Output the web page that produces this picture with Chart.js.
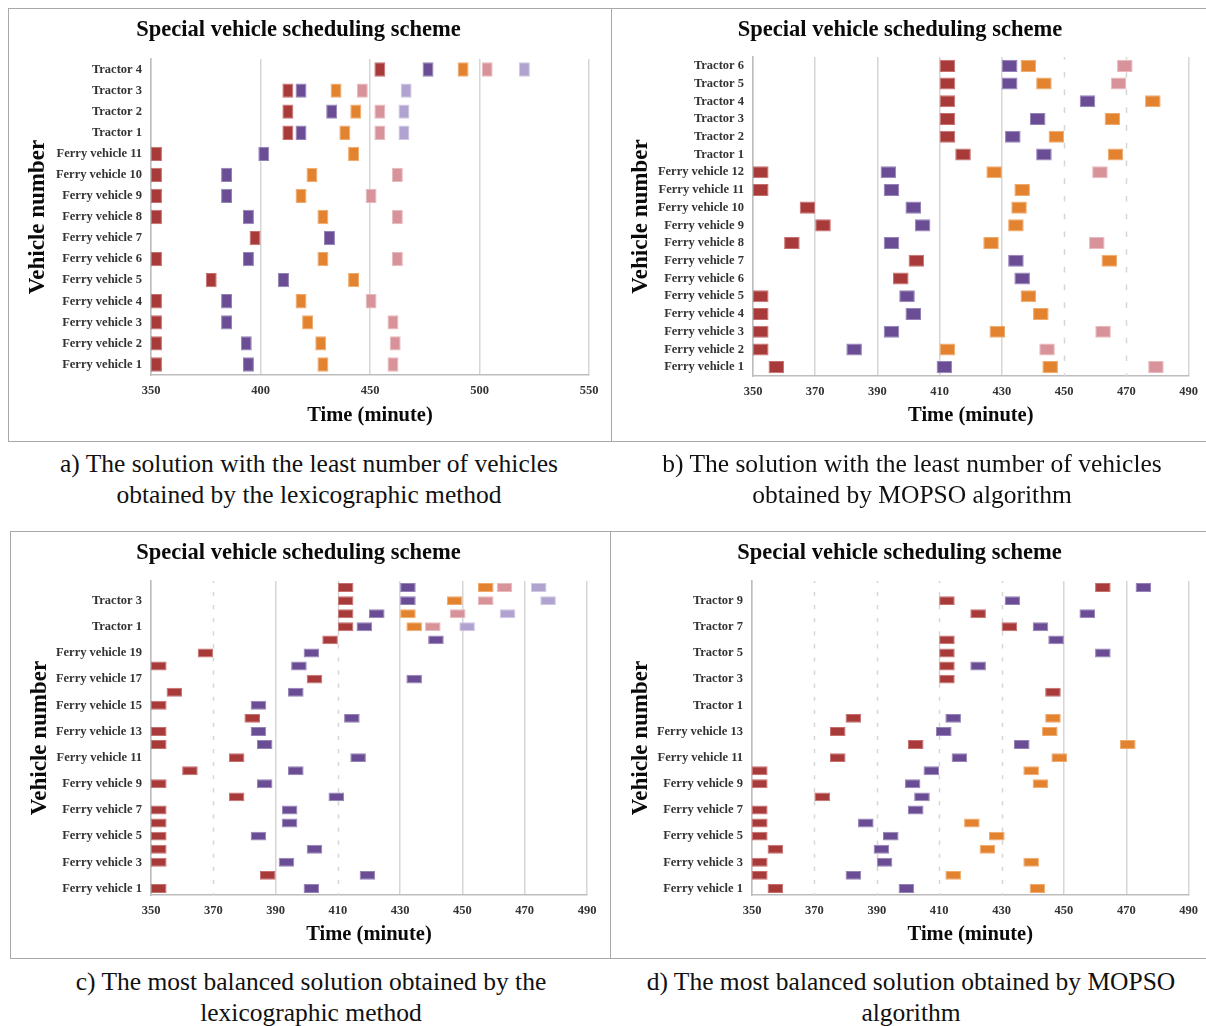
<!DOCTYPE html>
<html><head><meta charset="utf-8">
<script src="https://cdn.jsdelivr.net/npm/chart.js@4.4.1/dist/chart.umd.min.js"></script>
<style>
html,body{margin:0;padding:0;background:#fff;}
body{width:1206px;height:1026px;position:relative;overflow:hidden;font-family:'Liberation Serif','Times New Roman',serif;}
canvas{position:absolute;}
.box{position:absolute;box-sizing:border-box;border:1.5px solid #A8A8A8;pointer-events:none;}
.cap{position:absolute;text-align:center;font-size:25.5px;line-height:31px;color:#111;white-space:nowrap;}
</style></head><body>
<canvas id="ca"></canvas><canvas id="cb"></canvas><canvas id="cc"></canvas><canvas id="cd"></canvas>
<div class="box" style="left:8px;top:8px;width:604px;height:434px"></div>
<div class="box" style="left:611px;top:8px;width:596px;height:434px"></div>
<div class="box" style="left:10px;top:531px;width:601px;height:428px"></div>
<div class="box" style="left:610px;top:531px;width:597px;height:428px"></div>
<div class="cap" style="left:9px;width:600px;top:448px">a) The solution with the least number of vehicles<br>obtained by the lexicographic method</div>
<div class="cap" style="left:612px;width:600px;top:448px">b) The solution with the least number of vehicles<br>obtained by MOPSO algorithm</div>
<div class="cap" style="left:11px;width:600px;top:966px">c) The most balanced solution obtained by the<br>lexicographic method</div>
<div class="cap" style="left:611px;width:600px;top:966px">d) The most balanced solution obtained by MOPSO<br>algorithm</div>
<script>
// ---------- DATA (start time of each task block, minutes) ----------
const BLOCK_MINUTES = 5;
const chartTitle = 'Special vehicle scheduling scheme';
const taskNames = ['Task 1', 'Task 2', 'Task 3', 'Task 4', 'Task 5'];

// a) least vehicles, lexicographic
const labelsA = ['Ferry vehicle 1','Ferry vehicle 2','Ferry vehicle 3','Ferry vehicle 4','Ferry vehicle 5','Ferry vehicle 6','Ferry vehicle 7','Ferry vehicle 8','Ferry vehicle 9','Ferry vehicle 10','Ferry vehicle 11','Tractor 1','Tractor 2','Tractor 3','Tractor 4'];
const a1 = [350,350,350,350,375,350,395,350,350,350,350,410,410,410,452];
const a2 = [392,391,382,382,408,392,429,392,382,382,399,416,430,416,474];
const a3 = [426,425,419,416,440,426,null,426,416,421,440,436,441,432,490];
const a4 = [458,459,458,448,null,460,null,460,448,460,null,452,452,444,501];
const a5 = [null,null,null,null,null,null,null,null,null,null,null,463,463,464,518];
const ticksA = [350,400,450,500,550];

// b) least vehicles, MOPSO
const labelsB = ['Ferry vehicle 1','Ferry vehicle 2','Ferry vehicle 3','Ferry vehicle 4','Ferry vehicle 5','Ferry vehicle 6','Ferry vehicle 7','Ferry vehicle 8','Ferry vehicle 9','Ferry vehicle 10','Ferry vehicle 11','Ferry vehicle 12','Tractor 1','Tractor 2','Tractor 3','Tractor 4','Tractor 5','Tractor 6'];
const b1 = [355,350,350,350,350,395,400,360,370,365,350,350,415,410,410,410,410,410];
const b2 = [409,380,392,399,397,434,432,392,402,399,392,391,441,431,439,455,430,430];
const b3 = [443,410,426,440,436,null,462,424,432,433,434,425,464,445,463,476,441,436];
const b4 = [477,442,460,null,null,null,null,458,null,null,null,459,null,null,null,null,465,467];
const ticksB = [350,370,390,410,430,450,470,490];

// c) most balanced, lexicographic
const labelsC = ['Ferry vehicle 1','Ferry vehicle 2','Ferry vehicle 3','Ferry vehicle 4','Ferry vehicle 5','Ferry vehicle 6','Ferry vehicle 7','Ferry vehicle 8','Ferry vehicle 9','Ferry vehicle 10','Ferry vehicle 11','Ferry vehicle 12','Ferry vehicle 13','Ferry vehicle 14','Ferry vehicle 15','Ferry vehicle 16','Ferry vehicle 17','Ferry vehicle 18','Ferry vehicle 19','Ferry vehicle 20','Tractor 1','Tractor 2','Tractor 3','Tractor 4'];
const c1 = [350,385,350,350,350,350,350,375,350,360,375,350,350,380,350,355,400,350,365,405,410,410,410,410];
const c2 = [399,417,391,400,382,392,392,407,384,394,414,384,382,412,382,394,432,395,399,439,416,420,430,430];
const c3 = [null,null,null,null,null,null,null,null,null,null,null,null,null,null,null,null,null,null,null,null,432,430,445,455];
const c4 = [null,null,null,null,null,null,null,null,null,null,null,null,null,null,null,null,null,null,null,null,438,446,455,461];
const c5 = [null,null,null,null,null,null,null,null,null,null,null,null,null,null,null,null,null,null,null,null,449,462,475,472];
const ticksC = [350,370,390,410,430,450,470,490];

// d) most balanced, MOPSO
const labelsD = ['Ferry vehicle 1','Ferry vehicle 2','Ferry vehicle 3','Ferry vehicle 4','Ferry vehicle 5','Ferry vehicle 6','Ferry vehicle 7','Ferry vehicle 8','Ferry vehicle 9','Ferry vehicle 10','Ferry vehicle 11','Ferry vehicle 12','Ferry vehicle 13','Ferry vehicle 14','Tractor 1','Tractor 2','Tractor 3','Tractor 4','Tractor 5','Tractor 6','Tractor 7','Tractor 8','Tractor 9','Tractor 10'];
const d1 = [355,350,350,355,350,350,350,370,350,350,375,400,375,380,null,444,410,410,410,410,430,420,410,460];
const d2 = [397,380,390,389,392,384,400,402,399,405,414,434,409,412,null,null,null,420,460,445,440,455,431,473];
const d3 = [439,412,437,423,426,418,null,null,440,437,446,468,443,444,null,null,null,null,null,null,null,null,null,null];
const ticksD = [350,370,390,410,430,450,470,490];

// ---------- STYLE ----------
const SERIF = "'Liberation Serif','Times New Roman',serif";
const FILL = ['#A93A3A','#6B4D96','#E3832F','#D8939A','#B1A3CF'];
const EDGE = ['#C66F6F','#9483B6','#EFAA6C','#E8B9BD','#D0C7E5'];
const GRID = '#D6D6D6';
const AXIS = '#BDBDBD';
const BAR_FRACTION = 0.68;

const dashGrid = {
  id: 'dashGrid',
  beforeDatasetsDraw(chart, args, opts) {
    const vals = opts.values || [];
    if (!vals.length) return;
    const x = chart.scales.x, y = chart.scales.y, area = chart.chartArea, ctx = chart.ctx;
    const n = chart.data.labels.length;
    const rows = [];
    for (let i = 0; i < n; i++) rows.push(y.getPixelForValue(i));
    rows.sort((p, q) => p - q);
    const h = Math.abs(y.getPixelForValue(1) - y.getPixelForValue(0)) * BAR_FRACTION / 2;
    ctx.save();
    ctx.strokeStyle = GRID; ctx.lineWidth = 1.5;
    vals.forEach(v => {
      const px = Math.round(x.getPixelForValue(v)) + 0.5;
      let s = area.top;
      ctx.beginPath();
      rows.forEach(r => {
        if (r - h > s) { ctx.moveTo(px, s); ctx.lineTo(px, r - h); }
        s = r + h;
      });
      if (area.bottom > s) { ctx.moveTo(px, s); ctx.lineTo(px, area.bottom); }
      ctx.stroke();
    });
    ctx.restore();
  }
};

function makeChart(id, g, labels, series, ticks, skip, dashed) {
  const cv = document.getElementById(id);
  cv.width = g.w; cv.height = g.h;
  cv.style.left = g.x + 'px'; cv.style.top = g.y + 'px';
  cv.style.width = g.w + 'px'; cv.style.height = g.h + 'px';
  const datasets = series.map((arr, k) => ({
    label: taskNames[k],
    data: arr.map(s => s == null ? null : [s, s + BLOCK_MINUTES]),
    backgroundColor: FILL[k],
    borderColor: EDGE[k],
    borderWidth: 1,
    borderSkipped: false,
    grouped: false,
    barPercentage: BAR_FRACTION,
    categoryPercentage: 1.0
  }));
  new Chart(cv, {
    type: 'bar',
    data: { labels, datasets },
    plugins: [dashGrid],
    options: {
      indexAxis: 'y',
      responsive: false,
      animation: false,
      events: [],
      layout: { padding: { left: 0, right: g.padR, top: 0, bottom: 0 } },
      plugins: {
        legend: { display: false },
        tooltip: { enabled: false },
        dashGrid: { values: dashed },
        title: {
          display: true, text: chartTitle, color: '#0a0a0a',
          font: { family: SERIF, size: 22.5, weight: 'bold', lineHeight: 1.2 },
          padding: { top: 9, bottom: g.titleBottom }
        }
      },
      scales: {
        x: {
          type: 'linear', min: ticks[0], max: ticks[ticks.length - 1],
          afterBuildTicks: sc => { sc.ticks = ticks.map(v => ({ value: v })); },
          afterFit: sc => { sc.height = g.xH; },
          ticks: { color: '#333', padding: 8, font: { family: SERIF, size: 12.5, weight: 'bold' } },
          grid: {
            drawTicks: false, lineWidth: 1.5,
            color: c => (dashed.includes(c.tick && c.tick.value) ? 'rgba(0,0,0,0)' : GRID)
          },
          border: { display: true, color: AXIS, width: 1.5 },
          title: {
            display: true, text: 'Time (minute)', color: '#0a0a0a',
            font: { family: SERIF, size: 20.5, weight: 'bold', lineHeight: 1.2 },
            padding: { top: 0, bottom: g.xTitlePad }
          }
        },
        y: {
          type: 'category', reverse: true,
          afterFit: sc => { sc.width = g.yW; },
          ticks: {
            autoSkip: false, color: '#333', padding: 9,
            font: { family: SERIF, size: 12.5, weight: 'bold' },
            callback: function (v, i) { return i % skip === 0 ? this.getLabelForValue(v) : ''; }
          },
          grid: { drawOnChartArea: false, drawTicks: false },
          border: { display: true, color: AXIS, width: 1.5 },
          title: {
            display: true, text: 'Vehicle number', color: '#0a0a0a',
            font: { family: SERIF, size: 23, weight: 'bold', lineHeight: 1.2 },
            padding: { top: g.yTitlePad, bottom: 0 }
          }
        }
      }
    }
  });
}

makeChart('ca', { x: 8, y: 8, w: 604, h: 434, padR: 23, titleBottom: 15, xH: 67, xTitlePad: 14, yW: 143, yTitlePad: 16 },
  labelsA, [a1, a2, a3, a4, a5], ticksA, 1, []);
makeChart('cb', { x: 611, y: 8, w: 595, h: 434, padR: 17, titleBottom: 13, xH: 66, xTitlePad: 14, yW: 142, yTitlePad: 16 },
  labelsB, [b1, b2, b3, b4], ticksB, 1, [450, 470]);
makeChart('cc', { x: 10, y: 531, w: 600, h: 428, padR: 23, titleBottom: 14, xH: 64, xTitlePad: 12, yW: 141, yTitlePad: 16 },
  labelsC, [c1, c2, c3, c4, c5], ticksC, 2, [370, 410]);
makeChart('cd', { x: 610, y: 531, w: 596, h: 428, padR: 17, titleBottom: 14, xH: 64, xTitlePad: 12, yW: 142, yTitlePad: 17 },
  labelsD, [d1, d2, d3], ticksD, 2, [370, 390, 410, 430]);
</script>
</body></html>
